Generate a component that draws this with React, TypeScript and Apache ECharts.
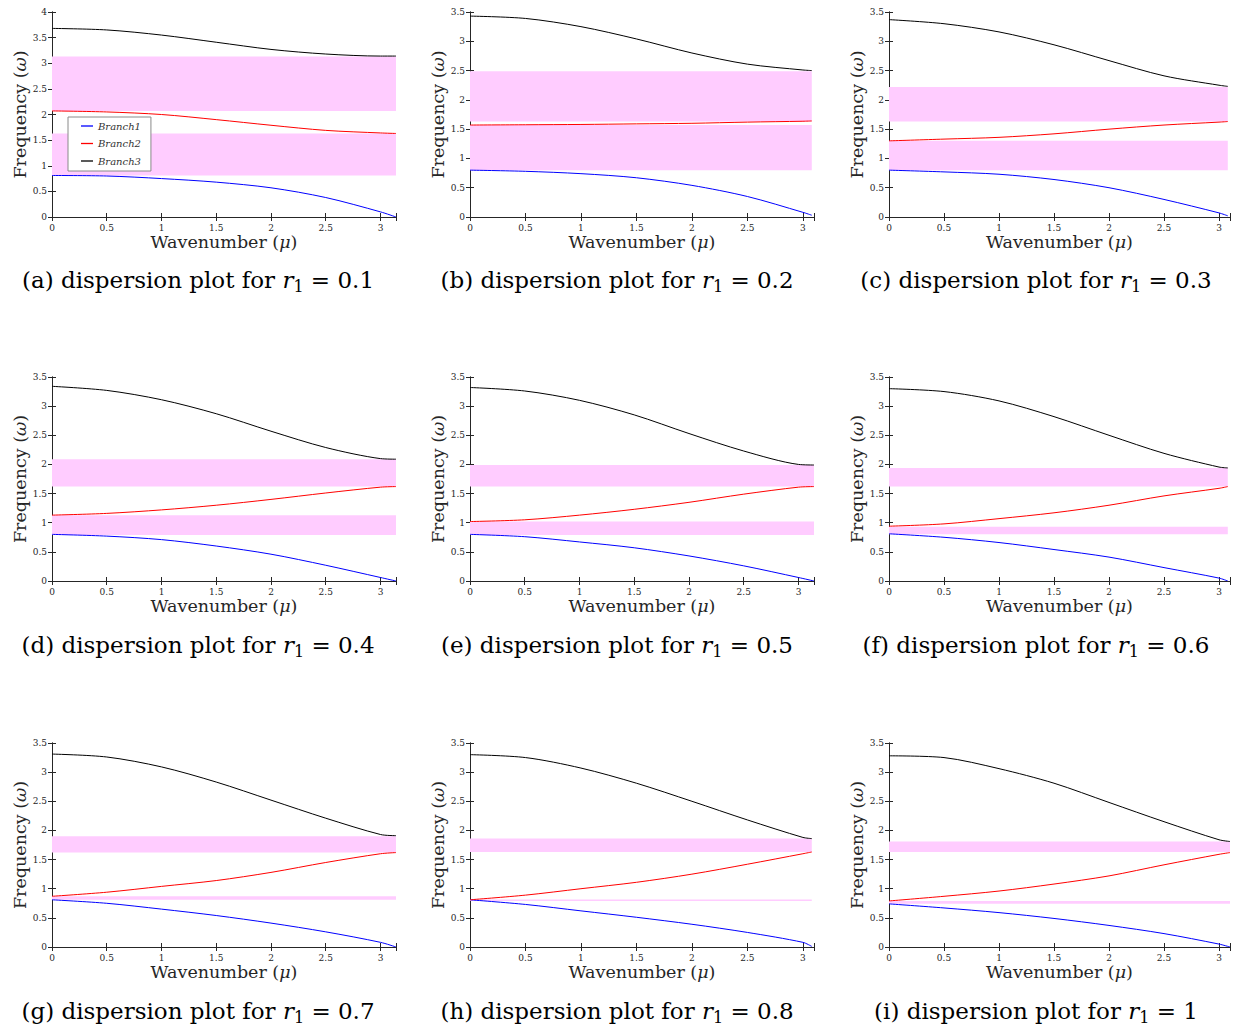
import React, { useEffect, useRef } from "react";
import * as echarts from "echarts";

const PI = Math.PI;
const letters = ["a", "b", "c", "d", "e", "f", "g", "h", "i"];
const r1Values = ["0.1", "0.2", "0.3", "0.4", "0.5", "0.6", "0.7", "0.8", "1"];
const yMaxes = [4, 3.5, 3.5, 3.5, 3.5, 3.5, 3.5, 3.5, 3.5];
const xMaxes = [PI, 3.1, 3.1, PI, PI, 3.1, PI, 3.1, 3.1];
const xEnds = [PI, 3.08, 3.08, PI, PI, 3.08, PI, 3.08, 3.1];
const xSamples = [0, 0.5, 1, 1.5, 2, 2.5, 3];

const branch1 = [
  [0.81, 0.8, 0.75, 0.68, 0.57, 0.38, 0.1, 0.0],
  [0.8, 0.78, 0.74, 0.67, 0.54, 0.35, 0.08, 0.03],
  [0.8, 0.77, 0.73, 0.64, 0.5, 0.3, 0.07, 0.02],
  [0.8, 0.77, 0.71, 0.6, 0.46, 0.27, 0.06, 0.0],
  [0.8, 0.76, 0.67, 0.57, 0.43, 0.26, 0.06, 0.0],
  [0.81, 0.75, 0.66, 0.54, 0.41, 0.23, 0.05, 0.0],
  [0.81, 0.75, 0.65, 0.54, 0.41, 0.26, 0.08, 0.0],
  [0.81, 0.73, 0.62, 0.51, 0.39, 0.25, 0.08, 0.01],
  [0.74, 0.67, 0.59, 0.49, 0.37, 0.23, 0.05, 0.0],
];
const branch2 = [
  [2.07, 2.05, 2.0, 1.9, 1.79, 1.69, 1.64, 1.63],
  [1.57, 1.575, 1.58, 1.59, 1.6, 1.62, 1.635, 1.64],
  [1.3, 1.33, 1.36, 1.42, 1.5, 1.57, 1.62, 1.63],
  [1.13, 1.16, 1.22, 1.3, 1.4, 1.51, 1.61, 1.62],
  [1.02, 1.05, 1.13, 1.23, 1.35, 1.49, 1.61, 1.62],
  [0.94, 0.98, 1.07, 1.17, 1.3, 1.46, 1.59, 1.62],
  [0.87, 0.94, 1.04, 1.14, 1.28, 1.45, 1.6, 1.62],
  [0.81, 0.89, 1.0, 1.11, 1.25, 1.42, 1.6, 1.63],
  [0.79, 0.87, 0.96, 1.08, 1.22, 1.41, 1.59, 1.62],
];
const branch3 = [
  [3.68, 3.65, 3.55, 3.41, 3.27, 3.18, 3.14, 3.14],
  [3.43, 3.39, 3.25, 3.04, 2.8, 2.61, 2.51, 2.5],
  [3.37, 3.3, 3.16, 2.94, 2.67, 2.41, 2.25, 2.23],
  [3.34, 3.27, 3.11, 2.87, 2.57, 2.29, 2.1, 2.09],
  [3.32, 3.26, 3.1, 2.85, 2.53, 2.23, 2.0, 1.99],
  [3.3, 3.25, 3.09, 2.82, 2.5, 2.19, 1.955, 1.94],
  [3.31, 3.26, 3.09, 2.83, 2.52, 2.21, 1.93, 1.91],
  [3.3, 3.25, 3.07, 2.81, 2.5, 2.18, 1.88, 1.86],
  [3.28, 3.25, 3.06, 2.81, 2.48, 2.15, 1.84, 1.81],
];
const lowerBand = [
  [0.81, 1.63], [0.8, 1.57], [0.8, 1.3], [0.79, 1.13], [0.79, 1.02],
  [0.8, 0.93], [0.81, 0.87], [0.805, 0.815], [0.74, 0.79],
];
const upperBand = [
  [2.07, 3.13], [1.63, 2.49], [1.63, 2.22], [1.62, 2.09], [1.62, 1.99],
  [1.62, 1.94], [1.62, 1.9], [1.63, 1.86], [1.63, 1.81],
];

const FONT = "DejaVu Serif";
const AX = "#262626";
const colLeft = [52, 470, 889];
const colWidth = [344, 344, 342];
const rowTop = [12, 377, 743];
const rowHeight = [205, 204, 204];
const captionX = [198, 617, 1036];
const captionY = [280, 645, 1011];

function buildOption() {
  const grid: any[] = [];
  const xAxis: any[] = [];
  const yAxis: any[] = [];
  const series: any[] = [];
  const graphic: any[] = [];
  for (let k = 0; k < 9; k++) {
    const r = Math.floor(k / 3);
    const c = k % 3;
    grid.push({ left: colLeft[c], top: rowTop[r], width: colWidth[c], height: rowHeight[r], show: false });
    const axLine = { show: true, lineStyle: { color: AX, width: 1 } };
    const tick = { show: true, inside: true, length: 4, lineStyle: { color: AX, width: 1 } };
    xAxis.push({
      type: "value", gridIndex: k, position: "bottom", min: 0, max: xMaxes[k], interval: 0.5,
      axisLine: axLine, axisTick: tick, splitLine: { show: false },
      axisLabel: {
        margin: 6, color: AX, fontFamily: FONT, fontSize: 9,
        formatter: (v: number) => (Math.abs(v * 2 - Math.round(v * 2)) < 1e-6 ? String(Math.round(v * 2) / 2) : ""),
      },
      name: "{t|Wavenumber (}{m|μ}{t|)}", nameLocation: "middle", nameGap: 14,
      nameTextStyle: {
        rich: {
          t: { fontFamily: FONT, fontSize: 17.5, color: AX },
          m: { fontFamily: FONT, fontSize: 17.5, fontStyle: "italic", color: AX },
        },
      },
    });
    xAxis.push({
      type: "value", gridIndex: k, position: "top", min: 0, max: xMaxes[k], interval: 0.5,
      axisLine: axLine, axisTick: tick, splitLine: { show: false }, axisLabel: { show: false },
    });
    yAxis.push({
      type: "value", gridIndex: k, position: "left", min: 0, max: yMaxes[k], interval: 0.5,
      axisLine: axLine, axisTick: tick, splitLine: { show: false },
      axisLabel: { margin: 5, color: AX, fontFamily: FONT, fontSize: 9 },
      name: "{t|Frequency (}{m|ω}{t|)}", nameLocation: "middle", nameGap: 22,
      nameTextStyle: {
        rich: {
          t: { fontFamily: FONT, fontSize: 17.5, color: AX },
          m: { fontFamily: FONT, fontSize: 17.5, fontStyle: "italic", color: AX },
        },
      },
    });
    yAxis.push({
      type: "value", gridIndex: k, position: "right", min: 0, max: yMaxes[k], interval: 0.5,
      axisLine: axLine, axisTick: tick, splitLine: { show: false }, axisLabel: { show: false },
    });
    const xs = xSamples.concat([xEnds[k]]);
    series.push({
      type: "custom", xAxisIndex: 2 * k, yAxisIndex: 2 * k, z: 1, clip: true, silent: true,
      data: [
        [0, xEnds[k], lowerBand[k][0], lowerBand[k][1]],
        [0, xEnds[k], upperBand[k][0], upperBand[k][1]],
      ],
      renderItem: (params: any, api: any) => {
        const p0 = api.coord([api.value(0), api.value(3)]);
        const p1 = api.coord([api.value(1), api.value(2)]);
        return {
          type: "rect",
          shape: { x: p0[0], y: p0[1], width: p1[0] - p0[0], height: Math.max(p1[1] - p0[1], 1.5) },
          style: { fill: "#ffccff" },
        };
      },
    });
    const lines = [
      { name: "Branch1", data: branch1[k], color: "#0000ff" },
      { name: "Branch2", data: branch2[k], color: "#ff0000" },
      { name: "Branch3", data: branch3[k], color: "#000000" },
    ];
    lines.forEach((l) => {
      series.push({
        type: "line", name: l.name, xAxisIndex: 2 * k, yAxisIndex: 2 * k, z: 3,
        data: xs.map((x, j) => [x, l.data[j]]),
        showSymbol: false, symbol: "none", smooth: 0.3,
        lineStyle: { color: l.color, width: 1 }, itemStyle: { color: l.color },
      });
    });
    graphic.push({
      type: "text", x: captionX[c], y: captionY[r],
      style: {
        text: `{n|(${letters[k]}) dispersion plot for }{i|r}{s|1}{n| = ${r1Values[k]}}`,
        align: "center", verticalAlign: "middle",
        rich: {
          n: { fontFamily: FONT, fontSize: 23, lineHeight: 28, fill: "#000", verticalAlign: "middle" },
          i: { fontFamily: FONT, fontSize: 23, lineHeight: 28, fontStyle: "italic", fill: "#000", verticalAlign: "middle" },
          s: { fontFamily: FONT, fontSize: 16, lineHeight: 16, fill: "#000", verticalAlign: "bottom" },
        },
      },
    });
  }
  return {
    animation: false,
    backgroundColor: "#ffffff",
    grid, xAxis, yAxis, series, graphic,
    legend: {
      data: ["Branch1", "Branch2", "Branch3"],
      left: 68, top: 117, orient: "vertical",
      icon: "rect", itemWidth: 12, itemHeight: 1.3, itemGap: 5.5,
      padding: [3, 10, 4, 13],
      borderColor: "#8a8a8a", borderWidth: 1, backgroundColor: "#ffffff",
      selectedMode: false,
      textStyle: { fontFamily: FONT, fontSize: 10, fontStyle: "italic", color: "#333", lineHeight: 12 },
    },
  };
}

export default function App() {
  const ref = useRef<HTMLDivElement>(null);
  useEffect(() => {
    if (!ref.current) return;
    const chart = echarts.init(ref.current, undefined, { renderer: "svg" });
    chart.setOption(buildOption() as any);
    return () => chart.dispose();
  }, []);
  return (
    <div
      ref={ref}
      style={{ position: "absolute", left: 0, top: 0, width: 1233, height: 1036, background: "#fff" }}
    />
  );
}
